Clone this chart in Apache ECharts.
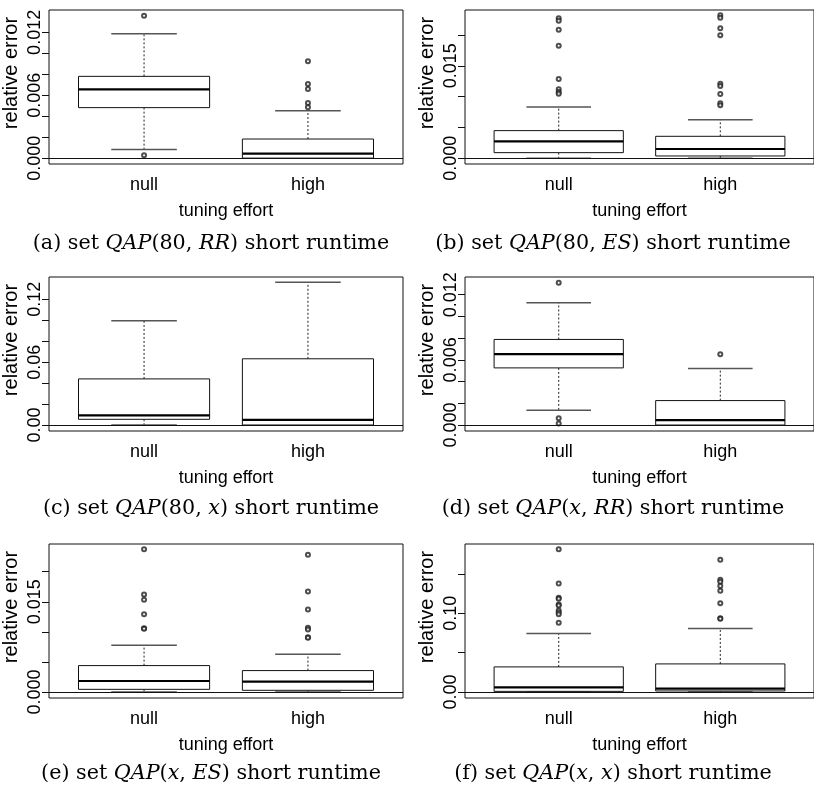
<!DOCTYPE html>
<html>
<head>
<meta charset="utf-8">
<script src="https://cdn.jsdelivr.net/npm/echarts@6/dist/echarts.min.js"></script>
<style>
html, body { margin: 0; padding: 0; background: #fff; }
#main { width: 814px; height: 786px; }
</style>
</head>
<body>
<div id="main"></div>
<script>
// groups on the x axis
var groups = ['null', 'high'];

// box stats: [lower whisker, Q1, median, Q3, upper whisker]
// (a) QAP(80,RR)
var nullA = [0.00083, 0.00483, 0.00657, 0.00781, 0.01187];
var highA = [0, 0.00002, 0.00044, 0.00184, 0.00454];
var nullOutA = [0.01359, 0.00029];
var highOutA = [0.00924, 0.00708, 0.0066, 0.00527, 0.00486];
// (b) QAP(80,ES)
var nullB = [0, 0.00092, 0.00276, 0.00449, 0.00832];
var highB = [0, 0.00038, 0.00151, 0.00357, 0.00627];
var nullOutB = [0.0227, 0.02232, 0.02086, 0.01827, 0.01286, 0.01119, 0.01076, 0.01049];
var highOutB = [0.02319, 0.02281, 0.02108, 0.01994, 0.01211, 0.01173, 0.01043, 0.00892, 0.00859];
// (c) QAP(80,x)
var nullC = [0, 0.00542, 0.00925, 0.044, 0.0995];
var highC = [0, 0, 0.00479, 0.0632, 0.1362];
var nullOutC = [];
var highOutC = [];
// (d) QAP(x,RR)
var nullD = [0.00135, 0.00526, 0.00652, 0.00788, 0.01126];
var highD = [0, 0, 0.00046, 0.00225, 0.0052];
var nullOutD = [0.01311, 0.00062, 0.00015];
var highOutD = [0.00652];
// (e) QAP(x,ES)
var nullE = [0, 0.00044, 0.00183, 0.00439, 0.00778];
var highE = [0, 0.00028, 0.00172, 0.00356, 0.00628];
var nullOutE = [0.02372, 0.01622, 0.01533, 0.01294, 0.01061, 0.0105];
var highOutE = [0.02283, 0.01672, 0.01372, 0.01067, 0.01039, 0.00911, 0.009];
// (f) QAP(x,x)
var nullF = [0, 0.0008, 0.0059, 0.0319, 0.0743];
var highF = [0, 0.0013, 0.0042, 0.0357, 0.0807];
var nullOutF = [0.1814, 0.138, 0.1198, 0.1185, 0.1113, 0.11, 0.1037, 0.1011, 0.099, 0.0879];
var highOutF = [0.1682, 0.1427, 0.1402, 0.1347, 0.1287, 0.113, 0.0939, 0.093];

// y ranges, tick positions and labelled ticks
var rangeA = [-0.00054, 0.01413], ticksA = [0, 0.002, 0.004, 0.006, 0.008, 0.010, 0.012], labelsA = [0, 0.006, 0.012];
var rangeB = [-0.00092, 0.02405], ticksB = [0, 0.005, 0.010, 0.015, 0.020], labelsB = [0, 0.015];
var rangeC = [-0.00574, 0.1413], ticksC = [0, 0.02, 0.04, 0.06, 0.08, 0.10, 0.12], labelsC = [0, 0.06, 0.12];
var rangeD = [-0.00055, 0.01363], ticksD = [0, 0.002, 0.004, 0.006, 0.008, 0.010, 0.012], labelsD = [0, 0.006, 0.012];
var rangeE = [-0.001, 0.02461], ticksE = [0, 0.005, 0.010, 0.015, 0.020], labelsE = [0, 0.015];
var rangeF = [-0.00765, 0.1882], ticksF = [0, 0.05, 0.10, 0.15], labelsF = [0, 0.10];

// caption pieces: letter, first arg, second arg
var captions = [
    ['a', '80', 'RR'], ['b', '80', 'ES'], ['c', '80', 'x'],
    ['d', 'x', 'RR'], ['e', 'x', 'ES'], ['f', 'x', 'x']
];

var panels = [
    { box: [nullA, highA], out: [nullOutA, highOutA], range: rangeA, ticks: ticksA, labels: labelsA, dec: 3 },
    { box: [nullB, highB], out: [nullOutB, highOutB], range: rangeB, ticks: ticksB, labels: labelsB, dec: 3 },
    { box: [nullC, highC], out: [nullOutC, highOutC], range: rangeC, ticks: ticksC, labels: labelsC, dec: 2 },
    { box: [nullD, highD], out: [nullOutD, highOutD], range: rangeD, ticks: ticksD, labels: labelsD, dec: 3 },
    { box: [nullE, highE], out: [nullOutE, highOutE], range: rangeE, ticks: ticksE, labels: labelsE, dec: 3 },
    { box: [nullF, highF], out: [nullOutF, highOutF], range: rangeF, ticks: ticksF, labels: labelsF, dec: 2 }
];

var colLeft = [49, 465];
var rowTop = [10, 277, 544];
var plotW = 354, plotH = 154;
var capCenter = [206, 608];
var sans = 'Liberation Sans';
var serif = 'DejaVu Serif';

// R style box: dashed whiskers, half width caps, thick median
function renderBox(params, api) {
    var x = api.value(0);
    var lo = api.coord([x, api.value(1)]);
    var q1 = api.coord([x, api.value(2)]);
    var md = api.coord([x, api.value(3)]);
    var q3 = api.coord([x, api.value(4)]);
    var hi = api.coord([x, api.value(5)]);
    var w = api.size([0.8, 0])[0];
    var cx = lo[0], h = w / 2, c = w / 4;
    var dash = { stroke: '#222', lineWidth: 1, lineDash: [2, 2] };
    var capS = { stroke: '#555', lineWidth: 1.5 };
    return {
        type: 'group',
        children: [
            { type: 'line', shape: { x1: cx, y1: q3[1], x2: cx, y2: hi[1] }, style: dash },
            { type: 'line', shape: { x1: cx, y1: q1[1], x2: cx, y2: lo[1] }, style: dash },
            { type: 'line', shape: { x1: cx - c, y1: hi[1], x2: cx + c, y2: hi[1] }, style: capS },
            { type: 'line', shape: { x1: cx - c, y1: lo[1], x2: cx + c, y2: lo[1] }, style: capS },
            { type: 'rect', shape: { x: cx - h, y: q3[1], width: w, height: q1[1] - q3[1] },
              style: { fill: '#fff', stroke: '#111', lineWidth: 1 } },
            { type: 'line', shape: { x1: cx - h, y1: md[1], x2: cx + h, y2: md[1] },
              style: { stroke: '#000', lineWidth: 2.2 } }
        ]
    };
}

var grid = [], xAxis = [], yAxis = [], series = [], title = [];

panels.forEach(function (p, i) {
    var col = i % 2, row = Math.floor(i / 2);
    grid.push({
        left: colLeft[col], top: rowTop[row], width: plotW, height: plotH,
        show: true, borderColor: '#111', borderWidth: 1, backgroundColor: 'transparent'
    });
    xAxis.push({
        type: 'value', gridIndex: i, min: 0.42, max: 2.58,
        axisLine: { show: false }, axisTick: { show: false }, splitLine: { show: false },
        axisLabel: {
            customValues: [1, 2], margin: 12, color: '#000', fontFamily: sans, fontSize: 18,
            formatter: function (v) { return groups[Math.round(v) - 1]; }
        },
        name: 'tuning effort', nameLocation: 'middle', nameGap: 38,
        nameTextStyle: { color: '#000', fontFamily: sans, fontSize: 18 }
    });
    yAxis.push({
        type: 'value', gridIndex: i, min: p.range[0], max: p.range[1],
        axisLine: { show: false }, splitLine: { show: false },
        axisTick: { show: true, customValues: p.ticks, length: 7, lineStyle: { color: '#111' } },
        axisLabel: {
            customValues: p.labels, rotate: 90, margin: 5, color: '#000', fontFamily: sans, fontSize: 18,
            formatter: (function (d) { return function (v) { return v.toFixed(d); }; })(p.dec)
        },
        name: 'relative error', nameLocation: 'middle', nameRotate: 90, nameGap: 28,
        nameTextStyle: { color: '#000', fontFamily: sans, fontSize: 20, padding: [0, 0, 0, 28] }
    });
    series.push({
        type: 'custom', xAxisIndex: i, yAxisIndex: i, renderItem: renderBox,
        encode: { x: 0, y: [1, 2, 3, 4, 5] }, clip: false, silent: true,
        data: p.box.map(function (b, g) { return [g + 1].concat(b); }),
        markLine: {
            silent: true, symbol: ['none', 'none'], label: { show: false },
            lineStyle: { color: '#111', type: 'solid', width: 1 },
            data: [{ yAxis: 0 }]
        }
    });
    var pts = [];
    p.out.forEach(function (vals, g) {
        vals.forEach(function (v) { pts.push([g + 1, v]); });
    });
    series.push({
        type: 'scatter', xAxisIndex: i, yAxisIndex: i, silent: true,
        symbol: 'emptyCircle', symbolSize: 4,
        itemStyle: { color: '#222', borderColor: '#222', borderWidth: 0.8 },
        data: pts
    });
    var cp = captions[i];
    title.push({
        left: capCenter[col], textAlign: 'center', top: rowTop[row] + 218 - row * 2,
        text: '{n|(' + cp[0] + ') set }{i|QAP}{n|(' + '}' +
              (cp[1] === 'x' ? '{i|x}' : '{n|' + cp[1] + '}') + '{n|, }{i|' + cp[2] + '}{n|) short runtime}',
        textStyle: {
            fontWeight: 'normal',
            rich: {
                n: { fontFamily: serif, fontWeight: 'normal', fontSize: 20.7, color: '#000' },
                i: { fontFamily: serif, fontWeight: 'normal', fontStyle: 'italic', fontSize: 20.7, color: '#000' }
            }
        }
    });
});

var myChart = echarts.init(document.getElementById('main'));
myChart.setOption({
    animation: false,
    backgroundColor: '#fff',
    title: title,
    grid: grid,
    xAxis: xAxis,
    yAxis: yAxis,
    series: series
});
</script>
</body>
</html>
